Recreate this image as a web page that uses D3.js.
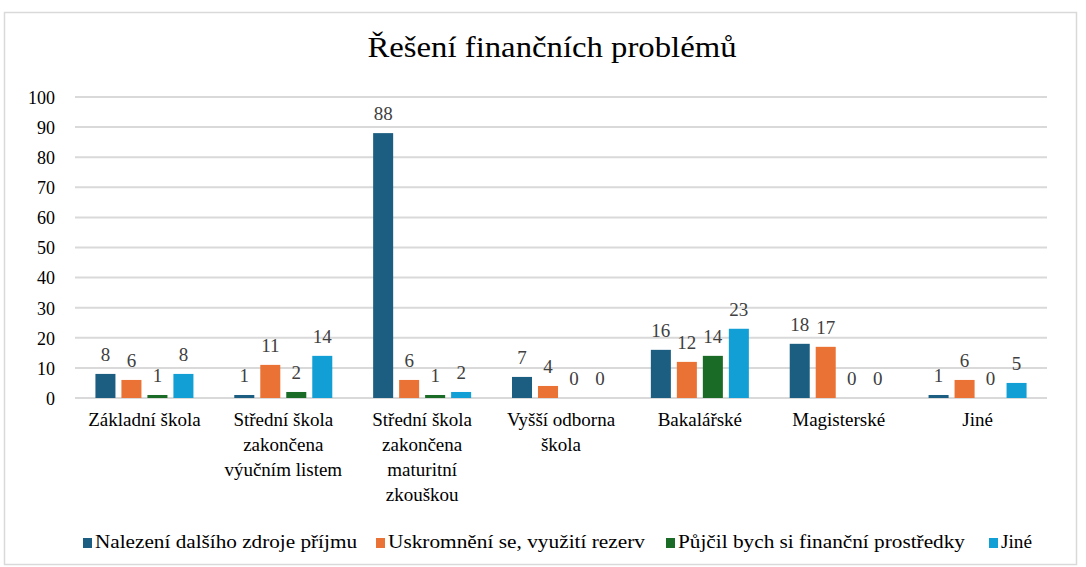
<!DOCTYPE html>
<html><head><meta charset="utf-8">
<script src="https://cdn.jsdelivr.net/npm/d3@7"></script>
</head><body style="margin:0"><svg id="c" width="1086" height="567" style="display:block"></svg>
<script>
const title = "Řešení finančních problémů";
const categories = ["Základní škola", "Střední škola zakončena výučním listem", "Střední škola zakončena maturitní zkouškou", "Vyšší odborna škola", "Bakalářské", "Magisterské", "Jiné"];
const categoryLines = [["Základní škola"], ["Střední škola", "zakončena", "výučním listem"], ["Střední škola", "zakončena", "maturitní", "zkouškou"], ["Vyšší odborna", "škola"], ["Bakalářské"], ["Magisterské"], ["Jiné"]];
const seriesNames = ["Nalezení dalšího zdroje příjmu", "Uskromnění se, využití rezerv", "Půjčil bych si finanční prostředky", "Jiné"];
const seriesColors = ["#1b5e81", "#e97234", "#1a6b25", "#119fd6"];
const s1 = [8, 1, 88, 7, 16, 18, 1];
const s2 = [6, 11, 6, 4, 12, 17, 6];
const s3 = [1, 2, 1, 0, 14, 0, 0];
const s4 = [8, 14, 2, 0, 23, 0, 5];
const yTicks = [0, 10, 20, 30, 40, 50, 60, 70, 80, 90, 100];
const seriesValues = [s1, s2, s3, s4];

const FF = "Times New Roman";
const svg = d3.select("#c");
svg.append("rect").attr("x", 4.5).attr("y", 12.5).attr("width", 1072).attr("height", 552)
  .attr("fill", "#fff").attr("stroke", "#d9d9d9").attr("stroke-width", 1.5);

svg.append("text").attr("x", 552).attr("y", 57).attr("text-anchor", "middle")
  .style("font-family", FF).attr("font-size", 30).attr("fill", "#000")
  .attr("textLength", 369).attr("lengthAdjust", "spacingAndGlyphs").text(title);

const x0 = d3.scaleBand().domain(categories).range([75, 1047]).padding(0);
const x1 = d3.scaleBand().domain(d3.range(4)).range([-49, 49]).paddingInner(0.23).paddingOuter(0);
const y = d3.scaleLinear().domain([0, 100]).range([398, 97]);

const grid = svg.append("g");
grid.selectAll("line").data(yTicks).join("line")
  .attr("x1", 75).attr("x2", 1047).attr("y1", d => y(d)).attr("y2", d => y(d))
  .attr("stroke", "#d9d9d9").attr("stroke-width", 2);

const yAxis = d3.axisLeft(y).tickValues(yTicks).tickSize(0).tickPadding(0);
const ya = svg.append("g").attr("transform", "translate(55,0)").call(yAxis);
ya.select(".domain").remove();
ya.attr("font-family", FF);
ya.selectAll("text").style("font-family", FF).attr("font-size", 18).attr("fill", "#000").attr("dy", "0.35em");

const groups = svg.append("g").selectAll("g").data(categories).join("g")
  .attr("transform", d => `translate(${x0(d) + x0.bandwidth() / 2},0)`);
groups.each(function(cat, ci) {
  const g = d3.select(this);
  seriesValues.forEach((vals, si) => {
    const v = vals[ci];
    if (v > 0) {
      g.append("rect").attr("x", x1(si)).attr("width", x1.bandwidth())
        .attr("y", y(v)).attr("height", y(0) - y(v)).attr("fill", seriesColors[si]);
    }
    g.append("text").attr("x", x1(si) + x1.bandwidth() / 2).attr("y", y(v) - 13)
      .attr("text-anchor", "middle").style("font-family", FF).attr("font-size", 19)
      .attr("fill", "#404040").text(v);
  });
});

categories.forEach((c, i) => {
  const t = svg.append("text").attr("text-anchor", "middle").style("font-family", FF)
    .attr("font-size", 19).attr("fill", "#000");
  categoryLines[i].forEach((ln, k) => {
    t.append("tspan").attr("x", x0(c) + x0.bandwidth() / 2).attr("y", 426 + k * 25).text(ln);
  });
});

const legendX = [83, 376, 666, 989];
const legendW = [262, 257, 287, 31];
const lg = svg.append("g");
seriesNames.forEach((n, i) => {
  lg.append("rect").attr("x", legendX[i]).attr("y", 538).attr("width", 9).attr("height", 10).attr("fill", seriesColors[i]);
  lg.append("text").attr("x", legendX[i] + 12).attr("y", 548).style("font-family", FF)
    .attr("font-size", 19).attr("fill", "#000")
    .attr("textLength", legendW[i]).attr("lengthAdjust", "spacingAndGlyphs").text(n);
});
</script></body></html>
